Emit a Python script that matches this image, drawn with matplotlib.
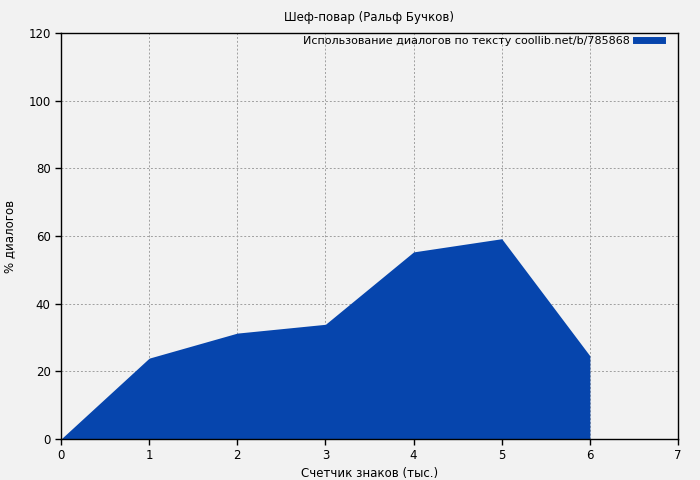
import matplotlib.pyplot as plt

x_vals = [0, 1, 2, 3, 4, 5, 6]
y_vals = [0, 23.9, 31.3, 33.9, 55.3, 59.2, 24.6]

title = 'Шеф-повар (Ральф Бучков)'
legend_label = 'Использование диалогов по тексту coollib.net/b/785868'
xlabel = 'Счетчик знаков (тыс.)'
ylabel = '% диалогов'

bg = '#f2f2f2'
fill_color = '#0645ad'

fig = plt.figure(figsize=(7, 4.8), dpi=100, facecolor=bg)
ax = fig.add_axes([61 / 700, 41 / 480, 617 / 700, 406 / 480])
ax.set_facecolor(bg)

ax.fill_between(x_vals, y_vals, 0, color=fill_color, linewidth=0, zorder=2)
ax.plot([], [], color=fill_color, linewidth=5, label=legend_label)

ax.set_xlim(0, 7)
ax.set_ylim(0, 120)
ax.set_xticks(range(0, 8))
ax.set_yticks(range(0, 121, 20))
ax.grid(True, color='#a0a0a0', linestyle=(0, (2, 2)), linewidth=0.7, zorder=1)
ax.set_axisbelow(True)

for s in ax.spines.values():
    s.set_linewidth(1.0)
    s.set_color('black')
ax.tick_params(direction='out', length=4, width=1, labelsize=8.5, colors='black')

ax.set_title(title, fontsize=8.5, pad=9)
ax.set_xlabel(xlabel, fontsize=8.5, labelpad=3)
ax.set_ylabel(ylabel, fontsize=8.5, labelpad=9)

leg = ax.legend(loc='upper right', frameon=False, fontsize=8, handlelength=2.4,
                markerfirst=False, borderaxespad=0.1, handletextpad=0.5,
                borderpad=0.2, bbox_to_anchor=(0.98, 1.0))

fig.savefig('out.png', dpi=100, facecolor=bg)
